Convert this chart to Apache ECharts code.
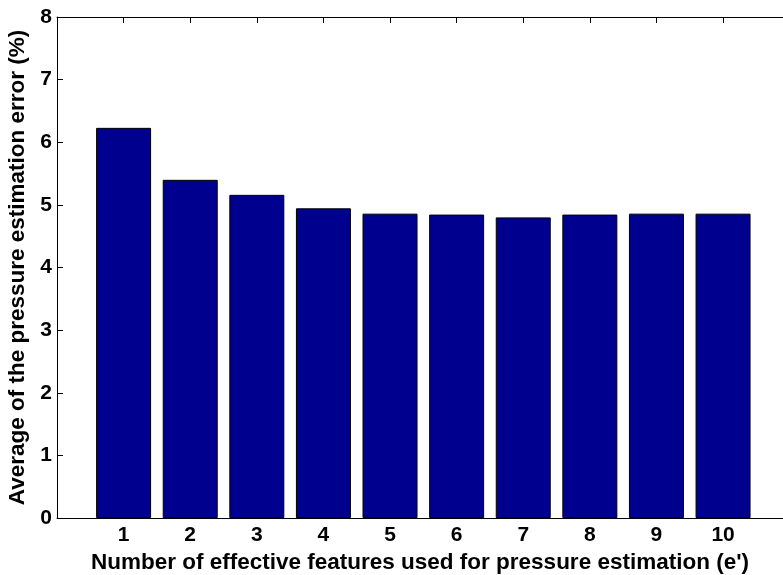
<!DOCTYPE html>
<html>
<head>
<meta charset="utf-8">
<script src="https://cdn.jsdelivr.net/npm/echarts@6/dist/echarts.min.js"></script>
<style>
  html, body { margin: 0; padding: 0; background: #fff; }
  #chart { width: 783px; height: 575px; }
</style>
</head>
<body>
<div id="chart"></div>
<script>
// Number of effective features (e') and the mean pressure-estimation error (%)
const features = [1, 2, 3, 4, 5, 6, 7, 8, 9, 10];
const meanError = [6.23, 5.40, 5.16, 4.945, 4.86, 4.845, 4.80, 4.845, 4.86, 4.86];
const yTicks = [0, 1, 2, 3, 4, 5, 6, 7, 8];

const FONT = 'Liberation Sans';
const tickFont = { fontFamily: FONT, fontWeight: 'bold', fontSize: 21, color: '#000' };
const lineStyle = { color: '#000', width: 1 };

const chart = echarts.init(document.getElementById('chart'), null, { renderer: 'canvas' });

// The x range runs a little past 10 so the right frame sits at the page edge.
const X_MIN = 0, X_MAX = 10.9;

chart.setOption({
  animation: false,
  backgroundColor: '#fff',
  grid: { left: 57, top: 17, right: 0, bottom: 57, containLabel: false, outerBoundsMode: 'none' },
  xAxis: [
    {
      type: 'value', position: 'bottom', min: X_MIN, max: X_MAX, interval: 1,
      axisLine: { show: true, onZero: false, lineStyle },
      axisTick: { show: true, inside: true, length: 6, lineStyle },
      splitLine: { show: false },
      axisLabel: Object.assign({
        margin: 7,
        showMinLabel: false, showMaxLabel: false,
        formatter: v => (features.indexOf(v) >= 0 ? String(v) : '')
      }, tickFont),
      name: "Number of effective features used for pressure estimation (e')",
      nameLocation: 'middle', nameGap: 31,
      nameTextStyle: { fontFamily: FONT, fontWeight: 'bold', fontSize: 22.5, color: '#000' }
    },
    {
      type: 'value', position: 'top', min: X_MIN, max: X_MAX, interval: 1,
      axisLine: { show: true, onZero: false, lineStyle },
      axisTick: { show: true, inside: true, length: 6, lineStyle },
      axisLabel: { show: false }, splitLine: { show: false }
    }
  ],
  yAxis: [
    {
      type: 'value', min: yTicks[0], max: yTicks[yTicks.length - 1], interval: 1,
      axisLine: { show: true, onZero: false, lineStyle },
      axisTick: { show: true, inside: true, length: 6, lineStyle },
      splitLine: { show: false },
      axisLabel: Object.assign({ margin: 5 }, tickFont),
      name: 'Average of the pressure estimation error (%)',
      nameLocation: 'middle', nameGap: 27, nameRotate: 90,
      nameTextStyle: { fontFamily: FONT, fontWeight: 'bold', fontSize: 22.5, color: '#000' }
    }
  ],
  series: [
    {
      type: 'bar',
      xAxisIndex: 0, yAxisIndex: 0,
      barWidth: 55,
      data: features.map((f, i) => [f, meanError[i]]),
      itemStyle: { color: '#00008f', borderColor: '#000', borderWidth: 1 }
    }
  ]
});
</script>
</body>
</html>
